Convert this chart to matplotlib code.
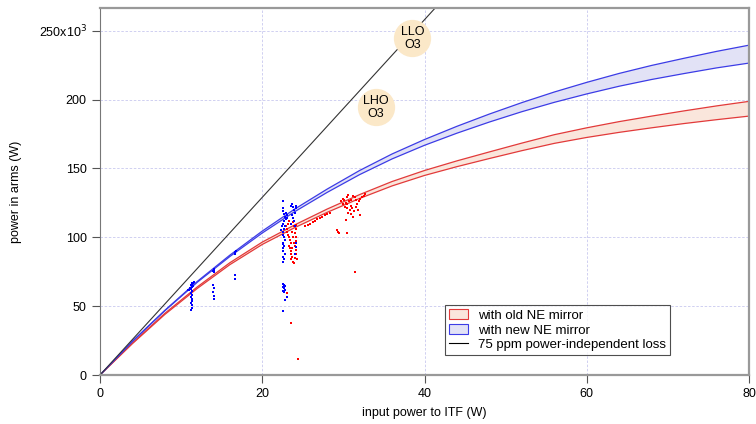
import matplotlib
matplotlib.use("Agg")
import matplotlib.pyplot as plt
from matplotlib.patches import Patch
from matplotlib.lines import Line2D

# model curves
model_x = [0, 4, 8, 12, 16, 20, 24, 28, 32, 36, 40, 44, 48, 52, 56, 60, 64, 68, 72, 76, 80]
new_upper = [0, 24.5, 47, 68, 87, 104.5, 120.5, 135, 148.5, 160.5, 171, 180.6, 189.5, 197.8,
             205.5, 212.5, 219, 224.8, 230, 235, 239.5]
new_lower = [0, 24.4, 46.7, 67.4, 86, 103.1, 118.6, 132.6, 145.5, 156.9, 166.8, 175.6, 183.7,
             191.2, 198, 204.1, 209.7, 214.6, 218.9, 223, 226.5]
old_upper = [0, 23.2, 44.8, 64, 81.5, 96.5, 109, 120.5, 131, 140.5, 148.5, 155.5, 162, 168.4,
             174.5, 179.5, 184, 188, 191.8, 195.4, 198.7]
old_lower = [0, 22.8, 44, 62.9, 80.1, 94.8, 107, 118.1, 128.2, 137.3, 144.9, 151.3, 157.2,
             162.9, 168.2, 172.5, 176.2, 179.5, 182.6, 185.4, 188]

# 75 ppm loss line
loss_x = [0, 80]
loss_y = [0, 516]

# measured points, new NE mirror (blue)
blue_x = [11.0, 11.1, 11.2, 11.3, 11.4, 11.5, 11.6, 11.3, 11.2, 11.3, 11.2, 11.3, 11.2, 11.3, 11.3,
          11.2, 11.3, 11.3, 11.2, 11.4, 11.5, 10.8,
          13.9, 14.0, 14.1, 14.0, 13.9, 14.0, 13.9, 14.0, 14.0,
          16.6, 16.7, 16.8, 16.7, 16.7, 16.7,
          22.6, 22.5, 22.6, 22.7, 22.8, 22.9, 22.7, 22.6, 22.8, 22.7, 22.6, 22.5, 22.7, 22.8,
          22.6, 22.7, 22.5, 22.6, 22.8, 22.6, 22.7, 22.6, 22.9, 23.0, 23.1, 22.4, 22.3, 22.5,
          23.6, 23.7, 23.8, 23.9, 24.0, 23.7, 23.8, 23.9, 24.1, 24.2, 23.6, 24.0, 24.1, 24.2, 24.0,
          22.6, 22.7, 22.6, 22.7, 22.8, 22.6, 22.7, 22.8, 23.0, 22.8, 22.6]
blue_y = [62, 63.5, 65, 66, 66.5, 67, 67.2, 64, 62.5, 61, 59.5, 58, 56.5, 55, 53.5,
          52, 50.5, 49, 47.5, 65.5, 64.5, 62,
          75.5, 76.5, 77, 75, 65, 63.5, 60, 57.5, 55.5,
          88.5, 89.3, 89.8, 88, 72.5, 70,
          126.5, 121, 119, 117, 115, 113, 112, 110, 108, 106, 104, 102, 100, 98,
          96, 94, 92, 90, 88, 86, 84, 82, 118, 116, 114, 108, 105, 95,
          123, 124, 122, 120, 118, 116, 114, 112, 121, 123, 110, 108, 96, 93, 88,
          66, 65, 64, 63, 62, 61, 60.5, 64.5, 57, 54.5, 46.5]

# measured points, old NE mirror (red)
red_x = [22.9, 23.0, 23.1, 23.2, 23.3, 23.4, 23.5, 23.3, 23.4, 23.6, 23.5, 23.7, 23.6, 23.8, 23.9,
         24.0, 24.1, 24.2, 24.0, 24.1, 24.2, 24.0, 24.1, 24.2, 23.8, 23.9, 23.7, 23.8, 23.9, 23.7,
         24.3, 23.2, 23.3,
         23.0, 23.6, 24.4,
         25.3, 25.6, 25.9, 26.2, 26.5, 26.8, 27.1, 27.4, 27.7, 28.0, 28.3,
         29.2, 29.3, 29.4, 30.5, 31.4,
         29.7, 29.9, 30.1, 30.3, 30.5, 30.7, 30.9, 31.1, 31.3, 31.0, 31.2, 30.8, 30.6, 30.4, 30.2,
         30.0, 31.5, 31.7, 31.9, 32.1, 32.3, 32.5, 32.7, 31.6, 31.4, 31.2, 31.0, 30.4, 30.6, 32.0,
         30.3, 31.8]
red_y = [108, 106, 104, 102, 100, 98, 96, 94, 92, 90, 88, 86, 84, 82, 81,
         85, 88, 91, 94, 97, 100, 103, 106, 109, 111, 108, 104, 100, 96, 92,
         84, 110, 112,
         59.5, 38, 11.5,
         108, 109, 110, 111, 112, 113, 114, 115, 116, 117, 118,
         105.5, 104, 103, 103, 75,
         126, 128, 127, 125, 124, 126, 123, 121, 119, 117, 115, 120, 118, 121, 122,
         124, 122, 124, 126, 128, 129, 130, 131.5, 127, 129, 130, 127, 129, 131, 116.5,
         112.6, 120]

# observatory markers
obs_labels = ["LLO\nO3", "LHO\nO3"]
obs_x = [38.5, 34.0]
obs_y = [244.5, 194.5]

plt.rcParams["font.family"] = ["Liberation Sans", "DejaVu Sans"]

fig = plt.figure(figsize=(7.56, 4.24), dpi=100)
ax = fig.add_axes([100 / 756, 1 - 375 / 424, 649 / 756, 367 / 424])

red_c = "#e23a3a"
blue_c = "#3c3ce6"

ax.fill_between(model_x, old_lower, old_upper, facecolor="#fae6dc", edgecolor="none", zorder=1)
ax.fill_between(model_x, new_lower, new_upper, facecolor="#e2e2f6", edgecolor="none", zorder=1)
ax.plot(model_x, old_upper, color=red_c, lw=0.9, zorder=2)
ax.plot(model_x, old_lower, color=red_c, lw=0.9, zorder=2)
ax.plot(model_x, new_upper, color=blue_c, lw=0.9, zorder=2)
ax.plot(model_x, new_lower, color=blue_c, lw=0.9, zorder=2)
ax.plot(loss_x, loss_y, color="#333333", lw=0.8, zorder=2)

ax.scatter(red_x, red_y, s=3.5, marker="s", color="#ff0000", linewidths=0, zorder=3)
ax.scatter(blue_x, blue_y, s=3.5, marker="s", color="#0000ff", linewidths=0, zorder=3)

ax.scatter(obs_x, obs_y, s=720, color="#fbe8c8", linewidths=0, zorder=4, clip_on=False)
for lbl, ox, oy in zip(obs_labels, obs_x, obs_y):
    ax.text(ox, oy, lbl, ha="center", va="center", fontsize=9, zorder=5, linespacing=1.1)

ax.set_xlim(0, 80)
ax.set_ylim(0, 266.5)
ax.set_xticks([0, 20, 40, 60, 80])
ax.set_yticks([0, 50, 100, 150, 200, 250])
ax.set_yticklabels(["0", "50", "100", "150", "200", "250x10$^3$"])
ax.tick_params(direction="out", length=6, width=0.8, color="#555555", labelsize=9)
ax.grid(True, color="#c9c9ef", lw=0.6, linestyle=(0, (3, 2)))
ax.set_axisbelow(True)
for side in ["top", "right", "bottom"]:
    ax.spines[side].set_color("#999999")
    ax.spines[side].set_linewidth(1.6)
ax.spines["left"].set_color("#777777")
ax.spines["left"].set_linewidth(0.8)

ax.set_xlabel("input power to ITF (W)", fontsize=9, labelpad=5)
ax.set_ylabel("power in arms (W)", fontsize=9, labelpad=12)

handles = [
    Patch(facecolor="#fae6dc", edgecolor=red_c, lw=0.8, label="with old NE mirror"),
    Patch(facecolor="#e2e2f6", edgecolor=blue_c, lw=0.8, label="with new NE mirror"),
    Line2D([], [], color="black", lw=0.8, label="75 ppm power-independent loss"),
]
leg = ax.legend(handles=handles, loc="lower left", bbox_to_anchor=(0.532, 0.054),
                fontsize=9.5, frameon=True, fancybox=False, edgecolor="#222222",
                handlelength=1.4, handleheight=0.8, borderpad=0.3, labelspacing=0.15,
                handletextpad=0.8, borderaxespad=0)
leg.get_frame().set_linewidth(0.8)

fig.savefig("out.png", dpi=100)
